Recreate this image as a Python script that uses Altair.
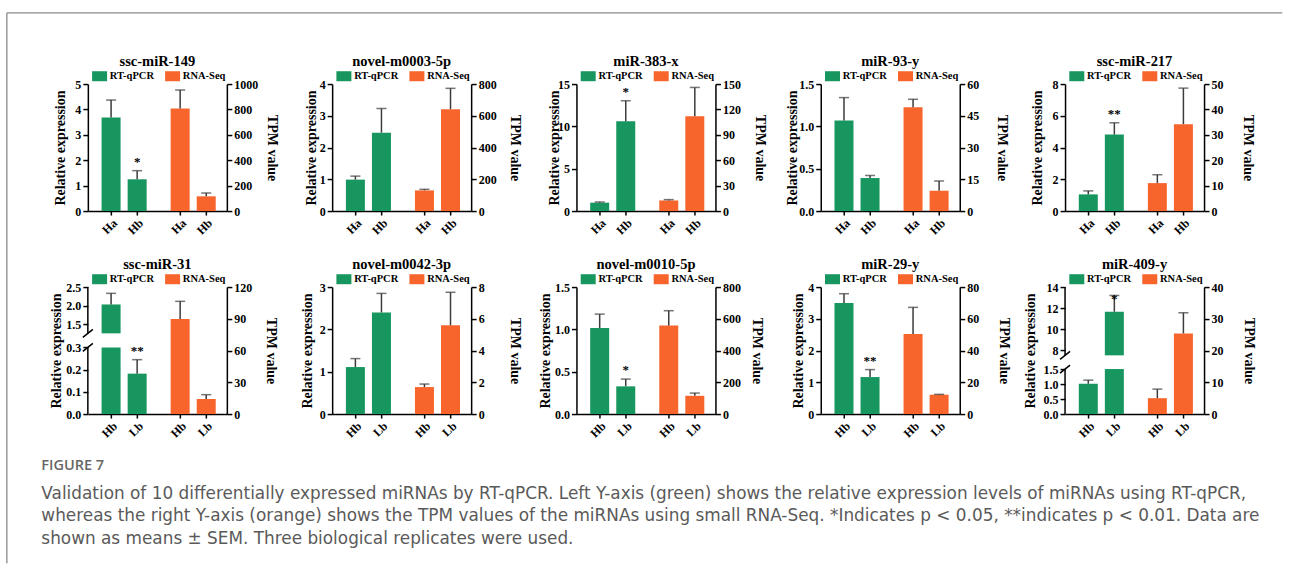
import altair as alt
import pandas as pd

# ---------------- data ----------------
mirnas = ["ssc-miR-149", "novel-m0003-5p", "miR-383-x", "miR-93-y", "ssc-miR-217",
          "ssc-miR-31", "novel-m0042-3p", "novel-m0010-5p", "miR-29-y", "miR-409-y"]
top_groups = ["Ha", "Hb"]
bottom_groups = ["Hb", "Lb"]
series_names = ["RT-qPCR", "RNA-Seq"]

qpcr_mean = [[3.68, 1.25], [0.99, 2.47], [0.99, 10.62], [1.07, 0.39], [1.05, 4.82],
             [2.03, 0.182], [1.11, 2.40], [1.016, 0.327], [3.50, 1.165], [1.01, 11.65]]
qpcr_sem = [[0.69, 0.34], [0.11, 0.76], [0.08, 2.41], [0.27, 0.03], [0.22, 0.74],
            [0.30, 0.063], [0.20, 0.45], [0.164, 0.086], [0.29, 0.235], [0.12, 1.55]]
seq_mean = [[808, 116], [130, 642], [12.5, 112], [49, 9.6], [11.0, 34.2],
            [89.8, 14.2], [1.70, 5.59], [557, 115], [50.4, 12.2], [5.0, 25.4]]
seq_sem = [[145, 26], [7, 131], [1.0, 34], [3.8, 4.6], [3.3, 14.2],
           [16.7, 4.1], [0.19, 2.08], [94, 17], [16.8, 0.2], [2.85, 6.5]]
stars = [["", "*"], ["", ""], ["", "*"], ["", ""], ["", "**"],
         ["", "**"], ["", ""], ["", "*"], ["", "**"], ["", "*"]]

left_ticks = [[0, 1, 2, 3, 4, 5], [0, 1, 2, 3, 4], [0, 5, 10, 15], [0, 0.5, 1.0, 1.5], [0, 2, 4, 6, 8],
              [0, 0.1, 0.2, 0.3, 1.5, 2.0, 2.5], [0, 1, 2, 3], [0, 0.5, 1.0, 1.5], [0, 1, 2, 3, 4],
              [0, 0.5, 1.0, 1.5, 8, 10, 12, 14]]
right_ticks = [[0, 200, 400, 600, 800, 1000], [0, 200, 400, 600, 800], [0, 30, 60, 90, 120, 150],
               [0, 15, 30, 45, 60], [0, 10, 20, 30, 40, 50],
               [0, 30, 60, 90, 120], [0, 2, 4, 6, 8], [0, 200, 400, 600, 800], [0, 20, 40, 60, 80],
               [0, 10, 20, 30, 40]]
# broken left axes: (top of lower segment, bottom of upper segment)
axis_breaks = {5: (0.3, 1.25), 9: (1.5, 7.5)}

caption_title = "FIGURE 7"
caption_lines = [
    "Validation of 10 differentially expressed miRNAs by RT-qPCR. Left Y-axis (green) shows the relative expression levels of miRNAs using RT-qPCR,",
    "whereas the right Y-axis (orange) shows the TPM values of the miRNAs using small RNA-Seq. *Indicates p < 0.05, **indicates p < 0.01. Data are",
    "shown as means \u00b1 SEM. Three biological replicates were used.",
]

# ---------------- layout / style ----------------
GREEN = "#17965f"
ORANGE = "#f8652c"
ERR = "#3c3c3c"
FRAME = "#8a8a8a"
SERIF = "Liberation Serif"
SANS = "Open Sans"
CAP_FONT = "DejaVu Sans"
W, H = 139, 127
ROW_GAP, COL_GAP = 76, 105.3
POS = [0, 1, 2.65, 3.65]
XDOM = [-0.7, 4.25]
BAR = 19
BREAK_RANGE = {5: [H, 60.4, 46.3, 0], 9: [H, 82, 68.3, 0]}
LEFT_TITLE_X = [-27.6, -21, -22.3, -28.3, -27.7, -31.7, -25, -31, -22.6, -35]
RIGHT_TITLE_X = [45, 43, 44, 41.4, 43.3, 43.3, 43.3, 40.7, 44, 44]
STAR_DY = [-5, -5, -5, -5, -5, -5, -5, -5, -5, 7.5]

# absolute page targets (pixels)
PLOT_LEFT, PLOT_TOP = 87.5, 83.8
FRAME_X, FRAME_Y, FRAME_X2, FRAME_Y2 = 6.5, 12.7, 1282, 563
CAP_X, CAP_TITLE_Y, CAP_LINE_Y, CAP_LINE_H = 41, 465.5, 494, 22.2

legend = alt.Legend(title=None, orient="none", legendX=6.5, legendY=-13.2, direction="horizontal",
                    symbolType="M-1.5,-1H1.5V1H-1.5Z", symbolSize=100, symbolStrokeWidth=0,
                    symbolOpacity=1, labelFont=SERIF, labelFontWeight="bold", labelFontSize=10.5,
                    labelColor="black", labelOffset=5, columnPadding=10, padding=0, offset=0)


def panel(i):
    labels = top_groups if i < 5 else bottom_groups
    rows = []
    for j in range(2):
        rows.append({"series": series_names[0], "pos": POS[j], "mean": qpcr_mean[i][j],
                     "sem": qpcr_sem[i][j], "star": stars[i][j]})
    for j in range(2):
        rows.append({"series": series_names[1], "pos": POS[2 + j], "mean": seq_mean[i][j],
                     "sem": seq_sem[i][j], "star": ""})
    df = pd.DataFrame(rows)
    base = alt.Chart(df).transform_calculate(top="datum.mean + datum.sem")

    lab_expr = (f"datum.value < 0.5 ? '{labels[0]}' : datum.value < 2 ? '{labels[1]}' : "
                f"datum.value < 3 ? '{labels[0]}' : '{labels[1]}'")
    xscale = alt.Scale(domain=XDOM, nice=False, zero=False)
    xaxis = alt.Axis(values=POS, labelExpr=lab_expr, labelAngle=315, title="", tickSize=4)
    xenc = alt.X("pos:Q", scale=xscale, axis=xaxis)
    color = alt.Color("series:N", scale=alt.Scale(domain=series_names, range=[GREEN, ORANGE]),
                      legend=legend)

    broken = i in axis_breaks
    lt = left_ticks[i]
    if i == 9:
        lexpr = "datum.value >= 8 ? format(datum.value, 'd') : format(datum.value, '.1f')"
    elif any(v != int(v) for v in lt):
        lexpr = "format(datum.value, '.1f')"
    else:
        lexpr = "format(datum.value, 'd')"
    laxis = alt.Axis(values=lt, labelExpr=lexpr, title="Relative expression", orient="left",
                     titleX=LEFT_TITLE_X[i], titleY=H / 2, titleAngle=270,
                     titleBaseline="middle", titleAlign="center", domain=not broken)
    if broken:
        lo, hi = axis_breaks[i]
        lscale = alt.Scale(domain=[0, lo, hi, lt[-1]], range=BREAK_RANGE[i], nice=False, zero=False)
    else:
        lscale = alt.Scale(domain=[0, lt[-1]], nice=False, zero=False)

    def ly(field):
        return alt.Y(field, scale=lscale, axis=laxis)

    green = base.transform_filter(f"datum.series == '{series_names[0]}'")
    if broken:
        lower = green.transform_calculate(lo_top=f"min(datum.mean, {lo})").mark_bar(size=BAR).encode(
            x=xenc, y=ly("lo_top:Q"), y2=alt.datum(0), color=color)
        upper = green.transform_filter(f"datum.mean > {hi}").mark_bar(size=BAR).encode(
            x=xenc, y=ly("mean:Q"), y2=alt.datum(hi), color=color)
        segs = alt.Chart(pd.DataFrame({"a": [0, hi], "b": [lo, lt[-1]]})).mark_rule(
            color="black", strokeWidth=1.5).encode(x=alt.value(0), y=ly("a:Q"), y2="b:Q")
        r = BREAK_RANGE[i]
        slash = alt.Chart(pd.DataFrame({"k": [0]})).mark_rule(color="black", strokeWidth=1.5).encode(
            x=alt.value(-5), x2=alt.value(5), y=alt.value(r[1] + 4), y2=alt.value(r[1] - 4))
        slash2 = alt.Chart(pd.DataFrame({"k": [0]})).mark_rule(color="black", strokeWidth=1.5).encode(
            x=alt.value(-5), x2=alt.value(5), y=alt.value(r[2] + 4), y2=alt.value(r[2] - 4))
        green_layers = [lower, upper, segs, slash, slash2]
    else:
        bars = green.mark_bar(size=BAR).encode(x=xenc, y=ly("mean:Q"), color=color)
        green_layers = [bars]

    g_err = green.mark_rule(color=ERR, strokeWidth=1.5).encode(x=xenc, y=ly("mean:Q"), y2="top:Q")
    g_cap = green.mark_tick(color=ERR, orient="horizontal", size=10, thickness=1.5).encode(
        x=xenc, y=ly("top:Q"))
    g_star = green.mark_text(font=SERIF, fontWeight="bold", fontSize=13, dy=STAR_DY[i], color="black",
                             baseline="alphabetic").encode(x=xenc, y=ly("top:Q"), text="star:N")
    left = alt.layer(*green_layers, g_err, g_cap, g_star)

    rt = right_ticks[i]
    rscale = alt.Scale(domain=[0, rt[-1]], nice=False, zero=True)
    raxis = alt.Axis(values=rt, format="d", title="TPM value", orient="right",
                     titleX=RIGHT_TITLE_X[i], titleY=H / 2, titleAngle=90,
                     titleBaseline="middle", titleAlign="center")

    def ry(field):
        return alt.Y(field, scale=rscale, axis=raxis)

    orange = base.transform_filter(f"datum.series == '{series_names[1]}'")
    o_bars = orange.mark_bar(size=BAR).encode(x=xenc, y=ry("mean:Q"), color=color)
    o_err = orange.mark_rule(color=ERR, strokeWidth=1.5).encode(x=xenc, y=ry("mean:Q"), y2="top:Q")
    o_cap = orange.mark_tick(color=ERR, orient="horizontal", size=10, thickness=1.5).encode(
        x=xenc, y=ry("top:Q"))
    right = alt.layer(o_bars, o_err, o_cap)

    return alt.layer(left, right).resolve_scale(y="independent").properties(
        width=W, height=H,
        title=alt.TitleParams(mirnas[i], font=SERIF, fontWeight="bold", fontSize=14.5,
                              color="black", anchor="middle", frame="group", offset=1.6))


def caption_cell():
    # third-row cell holding the figure frame and the caption; its origin is the
    # column-1 plot left, one row below the second row of panels
    ox = PLOT_LEFT
    oy = PLOT_TOP + 2 * (H + ROW_GAP)
    one = pd.DataFrame({"k": [0]})
    top_line = alt.Chart(one).mark_rule(color=FRAME, strokeWidth=1.3).encode(
        x=alt.value(FRAME_X - ox), x2=alt.value(FRAME_X2 - ox), y=alt.value(FRAME_Y - oy))
    left_line = alt.Chart(one).mark_rule(color=FRAME, strokeWidth=1.3).encode(
        x=alt.value(FRAME_X - ox), y=alt.value(FRAME_Y - oy), y2=alt.value(FRAME_Y2 - oy))
    fig = alt.Chart(one).mark_text(font=SANS, fontWeight=600, fontSize=14.5, color="#666666",
                                   align="left", baseline="middle").encode(
        x=alt.value(CAP_X - ox), y=alt.value(CAP_TITLE_Y - oy), text=alt.value(caption_title))
    lines = [
        alt.Chart(one).mark_text(font=CAP_FONT, fontSize=16.9, color="#5a5a5a", align="left",
                                 baseline="middle").encode(
            x=alt.value(CAP_X - ox), y=alt.value(CAP_LINE_Y + k * CAP_LINE_H - oy),
            text=alt.value(line))
        for k, line in enumerate(caption_lines)
    ]
    return alt.layer(top_line, left_line, fig, *lines).properties(width=W, height=1)


panels = [panel(i) for i in range(10)] + [caption_cell()]

chart = alt.concat(*panels, columns=5, spacing={"column": COL_GAP, "row": ROW_GAP},
                   bounds="flush").resolve_scale(color="independent").properties(
    padding={"left": FRAME_X - 0.65, "top": FRAME_Y - 0.65, "right": 0, "bottom": 0},
).configure_view(stroke=None).configure_axis(
    domainColor="black", domainWidth=1.5, tickColor="black", tickWidth=1.5, tickSize=5,
    labelFont=SERIF, labelFontWeight="bold", labelFontSize=12, labelColor="black", labelPadding=2,
    titleFont=SERIF, titleFontWeight="bold", titleFontSize=14, titleColor="black",
    grid=False, labelOverlap=False, labelFlush=False)

chart.save("out.html", embed_options={"renderer": "svg", "actions": False})
